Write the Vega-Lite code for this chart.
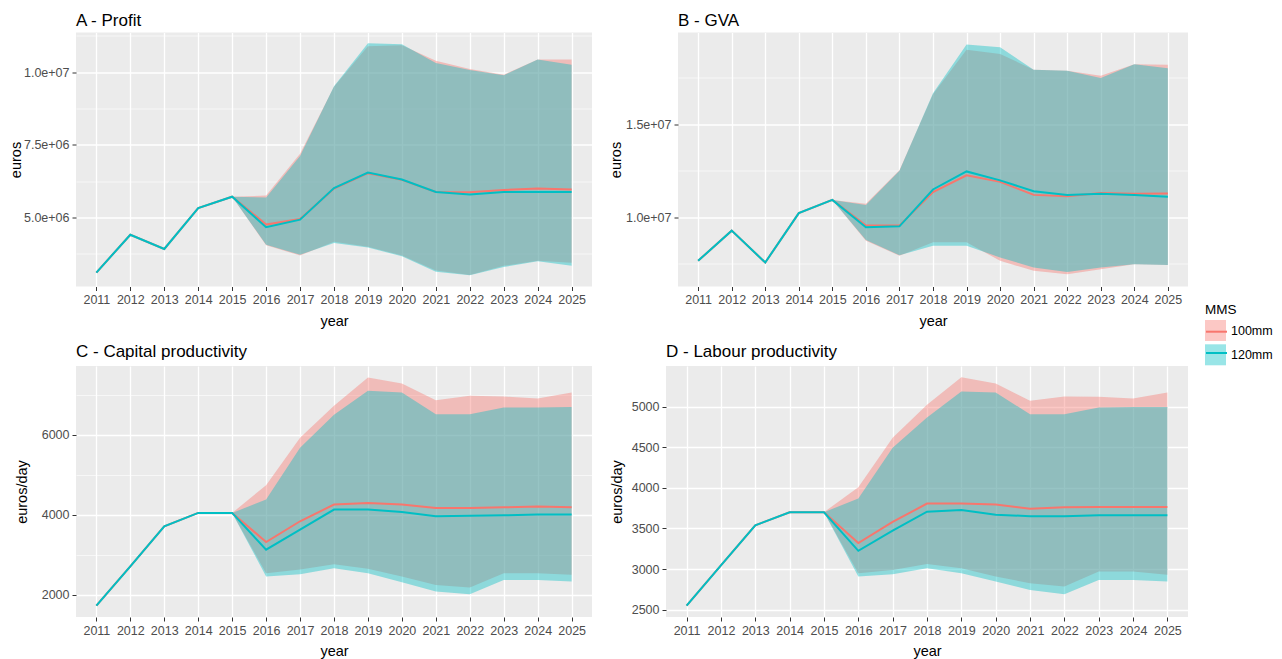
{
  "$schema": "https://vega.github.io/schema/vega-lite/v6.json",
  "padding": {"left": 8, "top": 11.5, "right": 5, "bottom": 0},
  "background": "white",
  "config": {
    "font": "Liberation Sans",
    "view": {"fill": "#EBEBEB", "stroke": null},
    "axis": {
      "domain": false,
      "gridColor": "#FFFFFF",
      "gridWidth": 1.3,
      "tickColor": "#333333",
      "tickSize": 4,
      "tickWidth": 1,
      "labelPadding": 3,
      "labelColor": "#4D4D4D",
      "labelFontSize": 12.5,
      "labelFont": "Liberation Sans",
      "titleFont": "Liberation Sans",
      "titleFontSize": 14.5,
      "titleFontWeight": "normal",
      "titleColor": "#000000"
    },
    "axisX": {"titlePadding": 8, "labelOverlap": false, "labelFlush": false},
    "title": {"fontSize": 17, "fontWeight": "normal", "anchor": "start", "frame": "group", "baseline": "alphabetic", "color": "#000000", "font": "Liberation Sans"},
    "legend": {"labelFont": "Liberation Sans", "titleFont": "Liberation Sans", "labelFontSize": 12.5, "titleFontSize": 13.5, "titleFontWeight": "normal", "titleColor": "#000000", "labelColor": "#000000", "rowPadding": 3.3, "padding": 0, "labelOffset": 5}
  },
  "data": {"values": [
    {"p":"A","year":2011,"MMS":"100mm","v":3110000,"lo":3110000,"hi":3110000},
    {"p":"A","year":2012,"MMS":"100mm","v":4410000,"lo":4410000,"hi":4410000},
    {"p":"A","year":2013,"MMS":"100mm","v":3920000,"lo":3920000,"hi":3920000},
    {"p":"A","year":2014,"MMS":"100mm","v":5330000,"lo":5330000,"hi":5330000},
    {"p":"A","year":2015,"MMS":"100mm","v":5720000,"lo":5720000,"hi":5720000},
    {"p":"A","year":2016,"MMS":"100mm","v":4760000,"lo":4050000,"hi":5760000},
    {"p":"A","year":2017,"MMS":"100mm","v":4950000,"lo":3700000,"hi":7200000},
    {"p":"A","year":2018,"MMS":"100mm","v":6000000,"lo":4170000,"hi":9500000},
    {"p":"A","year":2019,"MMS":"100mm","v":6530000,"lo":4000000,"hi":10900000},
    {"p":"A","year":2020,"MMS":"100mm","v":6300000,"lo":3700000,"hi":10930000},
    {"p":"A","year":2021,"MMS":"100mm","v":5880000,"lo":3180000,"hi":10400000},
    {"p":"A","year":2022,"MMS":"100mm","v":5870000,"lo":3030000,"hi":10110000},
    {"p":"A","year":2023,"MMS":"100mm","v":5950000,"lo":3340000,"hi":9920000},
    {"p":"A","year":2024,"MMS":"100mm","v":6000000,"lo":3520000,"hi":10440000},
    {"p":"A","year":2025,"MMS":"100mm","v":5970000,"lo":3450000,"hi":10440000},
    {"p":"A","year":2011,"MMS":"120mm","v":3110000,"lo":3110000,"hi":3110000},
    {"p":"A","year":2012,"MMS":"120mm","v":4410000,"lo":4410000,"hi":4410000},
    {"p":"A","year":2013,"MMS":"120mm","v":3920000,"lo":3920000,"hi":3920000},
    {"p":"A","year":2014,"MMS":"120mm","v":5330000,"lo":5330000,"hi":5330000},
    {"p":"A","year":2015,"MMS":"120mm","v":5720000,"lo":5720000,"hi":5720000},
    {"p":"A","year":2016,"MMS":"120mm","v":4670000,"lo":4070000,"hi":5690000},
    {"p":"A","year":2017,"MMS":"120mm","v":4930000,"lo":3720000,"hi":7120000},
    {"p":"A","year":2018,"MMS":"120mm","v":6020000,"lo":4130000,"hi":9520000},
    {"p":"A","year":2019,"MMS":"120mm","v":6550000,"lo":3970000,"hi":11000000},
    {"p":"A","year":2020,"MMS":"120mm","v":6310000,"lo":3670000,"hi":10970000},
    {"p":"A","year":2021,"MMS":"120mm","v":5880000,"lo":3140000,"hi":10320000},
    {"p":"A","year":2022,"MMS":"120mm","v":5800000,"lo":3020000,"hi":10080000},
    {"p":"A","year":2023,"MMS":"120mm","v":5880000,"lo":3300000,"hi":9900000},
    {"p":"A","year":2024,"MMS":"120mm","v":5880000,"lo":3500000,"hi":10440000},
    {"p":"A","year":2025,"MMS":"120mm","v":5880000,"lo":3340000,"hi":10260000},
    {"p":"B","year":2011,"MMS":"100mm","v":7660000,"lo":7660000,"hi":7660000},
    {"p":"B","year":2012,"MMS":"100mm","v":9280000,"lo":9280000,"hi":9280000},
    {"p":"B","year":2013,"MMS":"100mm","v":7570000,"lo":7570000,"hi":7570000},
    {"p":"B","year":2014,"MMS":"100mm","v":10220000,"lo":10220000,"hi":10220000},
    {"p":"B","year":2015,"MMS":"100mm","v":10930000,"lo":10930000,"hi":10930000},
    {"p":"B","year":2016,"MMS":"100mm","v":9550000,"lo":8740000,"hi":10720000},
    {"p":"B","year":2017,"MMS":"100mm","v":9550000,"lo":7930000,"hi":12520000},
    {"p":"B","year":2018,"MMS":"100mm","v":11350000,"lo":8650000,"hi":16600000},
    {"p":"B","year":2019,"MMS":"100mm","v":12250000,"lo":8650000,"hi":19000000},
    {"p":"B","year":2020,"MMS":"100mm","v":11900000,"lo":7660000,"hi":18770000},
    {"p":"B","year":2021,"MMS":"100mm","v":11200000,"lo":7120000,"hi":17920000},
    {"p":"B","year":2022,"MMS":"100mm","v":11130000,"lo":6940000,"hi":17860000},
    {"p":"B","year":2023,"MMS":"100mm","v":11300000,"lo":7210000,"hi":17600000},
    {"p":"B","year":2024,"MMS":"100mm","v":11260000,"lo":7480000,"hi":18220000},
    {"p":"B","year":2025,"MMS":"100mm","v":11280000,"lo":7440000,"hi":18190000},
    {"p":"B","year":2011,"MMS":"120mm","v":7660000,"lo":7660000,"hi":7660000},
    {"p":"B","year":2012,"MMS":"120mm","v":9280000,"lo":9280000,"hi":9280000},
    {"p":"B","year":2013,"MMS":"120mm","v":7570000,"lo":7570000,"hi":7570000},
    {"p":"B","year":2014,"MMS":"120mm","v":10220000,"lo":10220000,"hi":10220000},
    {"p":"B","year":2015,"MMS":"120mm","v":10930000,"lo":10930000,"hi":10930000},
    {"p":"B","year":2016,"MMS":"120mm","v":9460000,"lo":8780000,"hi":10650000},
    {"p":"B","year":2017,"MMS":"120mm","v":9510000,"lo":7960000,"hi":12500000},
    {"p":"B","year":2018,"MMS":"120mm","v":11490000,"lo":8470000,"hi":16660000},
    {"p":"B","year":2019,"MMS":"120mm","v":12460000,"lo":8470000,"hi":19270000},
    {"p":"B","year":2020,"MMS":"120mm","v":11980000,"lo":7840000,"hi":19130000},
    {"p":"B","year":2021,"MMS":"120mm","v":11400000,"lo":7300000,"hi":17920000},
    {"p":"B","year":2022,"MMS":"120mm","v":11200000,"lo":7060000,"hi":17860000},
    {"p":"B","year":2023,"MMS":"120mm","v":11260000,"lo":7300000,"hi":17470000},
    {"p":"B","year":2024,"MMS":"120mm","v":11200000,"lo":7480000,"hi":18220000},
    {"p":"B","year":2025,"MMS":"120mm","v":11100000,"lo":7440000,"hi":18000000},
    {"p":"C","year":2011,"MMS":"100mm","v":1733,"lo":1733,"hi":1733},
    {"p":"C","year":2012,"MMS":"100mm","v":2712,"lo":2712,"hi":2712},
    {"p":"C","year":2013,"MMS":"100mm","v":3716,"lo":3716,"hi":3716},
    {"p":"C","year":2014,"MMS":"100mm","v":4050,"lo":4050,"hi":4050},
    {"p":"C","year":2015,"MMS":"100mm","v":4050,"lo":4050,"hi":4050},
    {"p":"C","year":2016,"MMS":"100mm","v":3322,"lo":2544,"hi":4745},
    {"p":"C","year":2017,"MMS":"100mm","v":3842,"lo":2636,"hi":5933},
    {"p":"C","year":2018,"MMS":"100mm","v":4259,"lo":2770,"hi":6728},
    {"p":"C","year":2019,"MMS":"100mm","v":4301,"lo":2653,"hi":7439},
    {"p":"C","year":2020,"MMS":"100mm","v":4259,"lo":2461,"hi":7288},
    {"p":"C","year":2021,"MMS":"100mm","v":4176,"lo":2251,"hi":6869},
    {"p":"C","year":2022,"MMS":"100mm","v":4176,"lo":2185,"hi":6979},
    {"p":"C","year":2023,"MMS":"100mm","v":4190,"lo":2544,"hi":6960},
    {"p":"C","year":2024,"MMS":"100mm","v":4210,"lo":2544,"hi":6910},
    {"p":"C","year":2025,"MMS":"100mm","v":4190,"lo":2502,"hi":7062},
    {"p":"C","year":2011,"MMS":"120mm","v":1733,"lo":1733,"hi":1733},
    {"p":"C","year":2012,"MMS":"120mm","v":2712,"lo":2712,"hi":2712},
    {"p":"C","year":2013,"MMS":"120mm","v":3716,"lo":3716,"hi":3716},
    {"p":"C","year":2014,"MMS":"120mm","v":4050,"lo":4050,"hi":4050},
    {"p":"C","year":2015,"MMS":"120mm","v":4050,"lo":4050,"hi":4050},
    {"p":"C","year":2016,"MMS":"120mm","v":3130,"lo":2461,"hi":4384},
    {"p":"C","year":2017,"MMS":"120mm","v":3631,"lo":2519,"hi":5682},
    {"p":"C","year":2018,"MMS":"120mm","v":4133,"lo":2670,"hi":6502},
    {"p":"C","year":2019,"MMS":"120mm","v":4133,"lo":2544,"hi":7105},
    {"p":"C","year":2020,"MMS":"120mm","v":4075,"lo":2318,"hi":7062},
    {"p":"C","year":2021,"MMS":"120mm","v":3967,"lo":2085,"hi":6518},
    {"p":"C","year":2022,"MMS":"120mm","v":3980,"lo":2017,"hi":6518},
    {"p":"C","year":2023,"MMS":"120mm","v":3990,"lo":2376,"hi":6686},
    {"p":"C","year":2024,"MMS":"120mm","v":4010,"lo":2376,"hi":6686},
    {"p":"C","year":2025,"MMS":"120mm","v":4010,"lo":2336,"hi":6700},
    {"p":"D","year":2011,"MMS":"100mm","v":2550,"lo":2550,"hi":2550},
    {"p":"D","year":2012,"MMS":"100mm","v":3045,"lo":3045,"hi":3045},
    {"p":"D","year":2013,"MMS":"100mm","v":3539,"lo":3539,"hi":3539},
    {"p":"D","year":2014,"MMS":"100mm","v":3700,"lo":3700,"hi":3700},
    {"p":"D","year":2015,"MMS":"100mm","v":3700,"lo":3700,"hi":3700},
    {"p":"D","year":2016,"MMS":"100mm","v":3320,"lo":2949,"hi":4008},
    {"p":"D","year":2017,"MMS":"100mm","v":3580,"lo":2990,"hi":4618},
    {"p":"D","year":2018,"MMS":"100mm","v":3806,"lo":3061,"hi":5022},
    {"p":"D","year":2019,"MMS":"100mm","v":3806,"lo":3011,"hi":5360},
    {"p":"D","year":2020,"MMS":"100mm","v":3794,"lo":2909,"hi":5285},
    {"p":"D","year":2021,"MMS":"100mm","v":3744,"lo":2826,"hi":5071},
    {"p":"D","year":2022,"MMS":"100mm","v":3760,"lo":2785,"hi":5125},
    {"p":"D","year":2023,"MMS":"100mm","v":3765,"lo":2970,"hi":5120},
    {"p":"D","year":2024,"MMS":"100mm","v":3765,"lo":2970,"hi":5100},
    {"p":"D","year":2025,"MMS":"100mm","v":3765,"lo":2929,"hi":5174},
    {"p":"D","year":2011,"MMS":"120mm","v":2550,"lo":2550,"hi":2550},
    {"p":"D","year":2012,"MMS":"120mm","v":3045,"lo":3045,"hi":3045},
    {"p":"D","year":2013,"MMS":"120mm","v":3539,"lo":3539,"hi":3539},
    {"p":"D","year":2014,"MMS":"120mm","v":3700,"lo":3700,"hi":3700},
    {"p":"D","year":2015,"MMS":"120mm","v":3700,"lo":3700,"hi":3700},
    {"p":"D","year":2016,"MMS":"120mm","v":3225,"lo":2909,"hi":3868},
    {"p":"D","year":2017,"MMS":"120mm","v":3472,"lo":2937,"hi":4494},
    {"p":"D","year":2018,"MMS":"120mm","v":3707,"lo":3011,"hi":4865},
    {"p":"D","year":2019,"MMS":"120mm","v":3728,"lo":2949,"hi":5186},
    {"p":"D","year":2020,"MMS":"120mm","v":3670,"lo":2847,"hi":5174},
    {"p":"D","year":2021,"MMS":"120mm","v":3650,"lo":2743,"hi":4906},
    {"p":"D","year":2022,"MMS":"120mm","v":3650,"lo":2690,"hi":4906},
    {"p":"D","year":2023,"MMS":"120mm","v":3662,"lo":2867,"hi":4989},
    {"p":"D","year":2024,"MMS":"120mm","v":3662,"lo":2867,"hi":4995},
    {"p":"D","year":2025,"MMS":"120mm","v":3662,"lo":2847,"hi":4995}
  ]},
  "spacing": 14.5,
  "vconcat": [
    {
      "spacing": 16,
      "hconcat": [
        {
          "width": 516, "height": 254,
          "title": {"text": "A - Profit", "offset": 3},
          "transform": [{"filter": "datum.p == 'A'"}],
          "encoding": {
            "x": {"field": "year", "type": "quantitative", "title": "year",
                  "scale": {"domain": [2010.4, 2025.6], "nice": false, "zero": false},
                  "axis": {"values": [2011,2012,2013,2014,2015,2016,2017,2018,2019,2020,2021,2022,2023,2024,2025], "format": "d"}}
          },
          "layer": [
            {"mark": {"type": "area", "opacity": 0.4},
             "encoding": {
               "y": {"field": "lo", "type": "quantitative", "title": "euros",
                     "scale": {"domain": [2630000, 11370000], "nice": false, "zero": false},
                     "axis": {"titlePadding": 0,
                              "values": [3750000, 5000000, 6250000, 7500000, 8750000, 10000000, 11250000],
                              "labelExpr": "datum.value % 2500000 == 0 ? replace(format(datum.value, '.1e'), 'e+', 'e+0') : ''",
                              "gridWidth": {"condition": {"test": "datum.value % 2500000 == 0", "value": 1.3}, "value": 0.6},
                              "tickOpacity": {"condition": {"test": "datum.value % 2500000 == 0", "value": 1}, "value": 0}}},
               "y2": {"field": "hi"},
               "fill": {"field": "MMS", "type": "nominal",
                        "scale": {"range": ["#F8766D", "#00BFC4"]},
                        "legend": {"orient": "none", "legendX": 1129, "legendY": 270, "title": "MMS", "symbolType": "square", "symbolSize": 441, "symbolOpacity": 0.4, "symbolStrokeWidth": 0, "titlePadding": 4}}
             }},
            {"mark": {"type": "line", "strokeWidth": 2},
             "encoding": {
               "y": {"field": "v", "type": "quantitative"},
               "stroke": {"field": "MMS", "type": "nominal",
                          "scale": {"domain": ["100mm", "120mm"], "range": ["#F8766D", "#00BFC4"]},
                          "legend": {"orient": "none", "legendX": 1129, "legendY": 287.7, "title": null, "symbolType": "stroke", "symbolSize": 441, "symbolStrokeWidth": 2, "labelExpr": "''"}}
             }}
          ]
        },
        {
          "width": 510, "height": 254,
          "title": {"text": "B - GVA", "offset": 3},
          "transform": [{"filter": "datum.p == 'B'"}],
          "encoding": {
            "x": {"field": "year", "type": "quantitative", "title": "year",
                  "scale": {"domain": [2010.4, 2025.6], "nice": false, "zero": false},
                  "axis": {"values": [2011,2012,2013,2014,2015,2016,2017,2018,2019,2020,2021,2022,2023,2024,2025], "format": "d"}}
          },
          "layer": [
            {"mark": {"type": "area", "opacity": 0.4},
             "encoding": {
               "y": {"field": "lo", "type": "quantitative", "title": "euros",
                     "scale": {"domain": [6280000, 19920000], "nice": false, "zero": false},
                     "axis": {"titlePadding": 2,
                              "values": [7500000, 10000000, 12500000, 15000000, 17500000],
                              "labelExpr": "datum.value % 5000000 == 0 ? replace(format(datum.value, '.1e'), 'e+', 'e+0') : ''",
                              "gridWidth": {"condition": {"test": "datum.value % 5000000 == 0", "value": 1.3}, "value": 0.6},
                              "tickOpacity": {"condition": {"test": "datum.value % 5000000 == 0", "value": 1}, "value": 0}}},
               "y2": {"field": "hi"},
               "fill": {"field": "MMS", "type": "nominal"}
             }},
            {"mark": {"type": "line", "strokeWidth": 2},
             "encoding": {
               "y": {"field": "v", "type": "quantitative"},
               "stroke": {"field": "MMS", "type": "nominal"}
             }}
          ]
        }
      ]
    },
    {
      "spacing": 17,
      "hconcat": [
        {
          "width": 516, "height": 251,
          "title": {"text": "C - Capital productivity", "offset": 5.5},
          "transform": [{"filter": "datum.p == 'C'"}],
          "encoding": {
            "x": {"field": "year", "type": "quantitative", "title": "year",
                  "scale": {"domain": [2010.4, 2025.6], "nice": false, "zero": false},
                  "axis": {"values": [2011,2012,2013,2014,2015,2016,2017,2018,2019,2020,2021,2022,2023,2024,2025], "format": "d"}}
          },
          "layer": [
            {"mark": {"type": "area", "opacity": 0.4},
             "encoding": {
               "y": {"field": "lo", "type": "quantitative", "title": "euros/day",
                     "scale": {"domain": [1448, 7724], "nice": false, "zero": false},
                     "axis": {"titlePadding": 12,
                              "values": [2000, 3000, 4000, 5000, 6000, 7000],
                              "labelExpr": "datum.value % 2000 == 0 ? format(datum.value, 'd') : ''",
                              "gridWidth": {"condition": {"test": "datum.value % 2000 == 0", "value": 1.3}, "value": 0.6},
                              "tickOpacity": {"condition": {"test": "datum.value % 2000 == 0", "value": 1}, "value": 0}}},
               "y2": {"field": "hi"},
               "fill": {"field": "MMS", "type": "nominal"}
             }},
            {"mark": {"type": "line", "strokeWidth": 2},
             "encoding": {
               "y": {"field": "v", "type": "quantitative"},
               "stroke": {"field": "MMS", "type": "nominal"}
             }}
          ]
        },
        {
          "width": 522, "height": 251,
          "title": {"text": "D - Labour productivity", "offset": 5.5},
          "transform": [{"filter": "datum.p == 'D'"}],
          "encoding": {
            "x": {"field": "year", "type": "quantitative", "title": "year",
                  "scale": {"domain": [2010.4, 2025.6], "nice": false, "zero": false},
                  "axis": {"values": [2011,2012,2013,2014,2015,2016,2017,2018,2019,2020,2021,2022,2023,2024,2025], "format": "d"}}
          },
          "layer": [
            {"mark": {"type": "area", "opacity": 0.4},
             "encoding": {
               "y": {"field": "lo", "type": "quantitative", "title": "euros/day",
                     "scale": {"domain": [2410, 5500], "nice": false, "zero": false},
                     "axis": {"titlePadding": 6.5,
                              "values": [2500, 2750, 3000, 3250, 3500, 3750, 4000, 4250, 4500, 4750, 5000, 5250],
                              "labelExpr": "datum.value % 500 == 0 ? format(datum.value, 'd') : ''",
                              "gridWidth": {"condition": {"test": "datum.value % 500 == 0", "value": 1.3}, "value": 0.6},
                              "tickOpacity": {"condition": {"test": "datum.value % 500 == 0", "value": 1}, "value": 0}}},
               "y2": {"field": "hi"},
               "fill": {"field": "MMS", "type": "nominal"}
             }},
            {"mark": {"type": "line", "strokeWidth": 2},
             "encoding": {
               "y": {"field": "v", "type": "quantitative"},
               "stroke": {"field": "MMS", "type": "nominal"}
             }}
          ]
        }
      ]
    }
  ]
}
